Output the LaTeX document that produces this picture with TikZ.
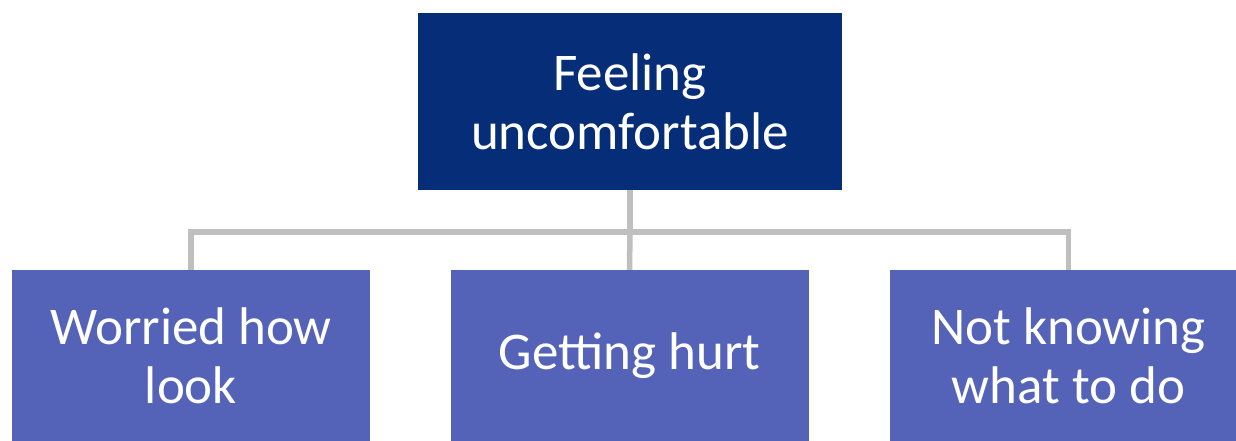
\documentclass[tikz,border=0pt]{standalone}
\usepackage{fontspec}
\setmainfont{Carlito}
\definecolor{topblue}{RGB}{5,45,120}
\definecolor{boxblue}{RGB}{84,99,184}
\definecolor{linegray}{RGB}{191,191,191}
\begin{document}
\begin{tikzpicture}[x=1pt,y=-1pt,
  topbox/.style={fill=topblue,draw=none,text=white,minimum width=424pt,minimum height=177pt,align=center,inner sep=0pt,font=\fontsize{53}{59}\selectfont},
  kidbox/.style={fill=boxblue,draw=none,text=white,minimum width=358pt,minimum height=171pt,align=center,inner sep=0pt,font=\fontsize{53}{59}\selectfont},
  conn/.style={draw=linegray,line width=5.5pt}]
\useasboundingbox (0,0) rectangle (1236,441);
\node[topbox] (top) at (630,101.5) {Feeling\\uncomfortable};
\node[kidbox] (a) at (191,355.5) {\raisebox{-4pt}{\parbox{340pt}{\centering Worried how\\look}}};
\node[kidbox] (b) at (629.5,355.5) {\raisebox{-4pt}{Getting hurt}};
\node[kidbox] (c) at (1068.5,355.5) {\raisebox{-4pt}{\parbox{340pt}{\centering Not knowing\\what to do}}};
\coordinate (ha) at (191,232);
\coordinate (hc) at (1068.5,232);
\coordinate (hm) at (630,232);
\draw[conn] (top.south) -- (hm);
\draw[conn] (ha |- a.north) -- (ha) -- (hc) -- (hc |- c.north);
\draw[conn] (hm) -- (b.north);
\end{tikzpicture}
\end{document}
